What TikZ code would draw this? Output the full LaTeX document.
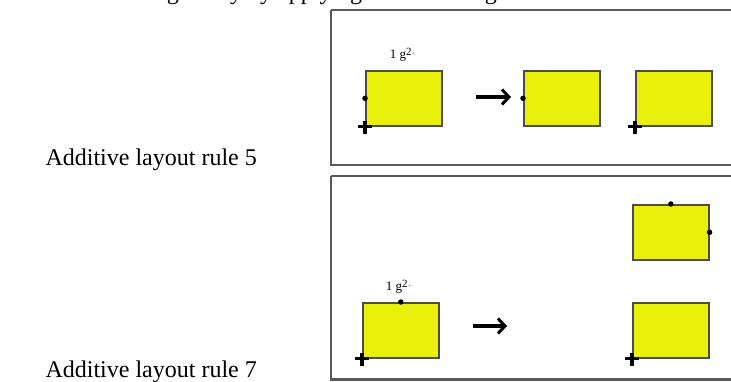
\documentclass[tikz,border=0pt]{standalone}
\usepackage{fontspec}
\setmainfont{Liberation Serif}
\usetikzlibrary{arrows.meta}
\definecolor{ryel}{RGB}{232,240,12}
\tikzset{
  rbox/.style={draw=black!70,line width=1.6pt,fill=ryel,minimum width=76pt,minimum height=55pt,inner sep=0pt,anchor=north west},
  panel/.style={draw=black!65,line width=2.6pt},
  pdot/.style={fill=black,circle,inner sep=0pt,minimum size=5.5pt},
  bigarrow/.style={line width=3.2pt,-{Straight Barb[length=7pt,width=15pt,line width=3pt]}},
  sidelbl/.style={font=\fontsize{24}{24}\selectfont,anchor=base east,inner sep=0pt},
  toplbl/.style={font=\fontsize{24}{24}\selectfont,inner sep=0pt},
  glab/.style={font=\fontsize{13}{13}\selectfont,inner sep=0pt},
  plusm/.style={line width=3.2pt}
}
\newcommand\gtwo{1 g\raisebox{3pt}{\fontsize{11}{11}\selectfont 2}\raisebox{2pt}{\color{black!40}\fontsize{8}{8}\selectfont +}}
\begin{document}
\begin{tikzpicture}[x=1pt,y=-1pt]
\useasboundingbox (0,0) rectangle (731,381);
% cut-off line above
\node[toplbl,anchor=base east] (cutA) at (179,-1) {resizing};
\node[toplbl,anchor=base west] (cutB) at (186,-1) {easily by applying the following two rules.};
% panels
\draw[panel] (331,10) -- (331,165) -- (745,165);
\draw[panel] (331,10) -- (745,10);
\draw[panel] (331,176) -- (331,379.5) -- (745,379.5);
\draw[panel] (331,176) -- (745,176);
% side labels
\node[sidelbl] (lab5) at (257,165) {Additive layout rule 5};
\node[sidelbl] (lab7) at (257,377) {Additive layout rule 7};
% rule 5
\node[rbox] (a1) at (365,70) {};
\node[rbox] (a2) at (523,70) {};
\node[rbox] (a3) at (635,70) {};
\node[glab] (g1) at (403,55) {\gtwo};
\node[pdot] (d1) at (a1.west) {};
\node[pdot] (d2) at (a2.west) {};
\draw[plusm] ([xshift=-7pt]a1.south west) -- ([xshift=7pt]a1.south west);
\draw[plusm] ([yshift=-7pt]a1.south west) -- ([yshift=6pt]a1.south west);
\draw[plusm] ([xshift=-7pt]a3.south west) -- ([xshift=7pt]a3.south west);
\draw[plusm] ([yshift=-7pt]a3.south west) -- ([yshift=6pt]a3.south west);
\coordinate (s1) at (476,97);
\coordinate (e1) at (511,97);
\draw[bigarrow] (s1) -- (e1);
% rule 7
\node[rbox] (b1) at (362,302) {};
\node[rbox] (b2) at (632,204) {};
\node[rbox] (b3) at (632,302) {};
\node[glab] (g2) at (399,287) {\gtwo};
\node[pdot] (d3) at (b1.north) {};
\node[pdot] (d4) at (b2.north) {};
\node[pdot] (d5) at (b2.east) {};
\draw[plusm] ([xshift=-7pt]b1.south west) -- ([xshift=7pt]b1.south west);
\draw[plusm] ([yshift=-7pt]b1.south west) -- ([yshift=6pt]b1.south west);
\draw[plusm] ([xshift=-7pt]b3.south west) -- ([xshift=7pt]b3.south west);
\draw[plusm] ([yshift=-7pt]b3.south west) -- ([yshift=6pt]b3.south west);
\coordinate (s2) at (473,326);
\coordinate (e2) at (507,326);
\draw[bigarrow] (s2) -- (e2);
\end{tikzpicture}
\end{document}
